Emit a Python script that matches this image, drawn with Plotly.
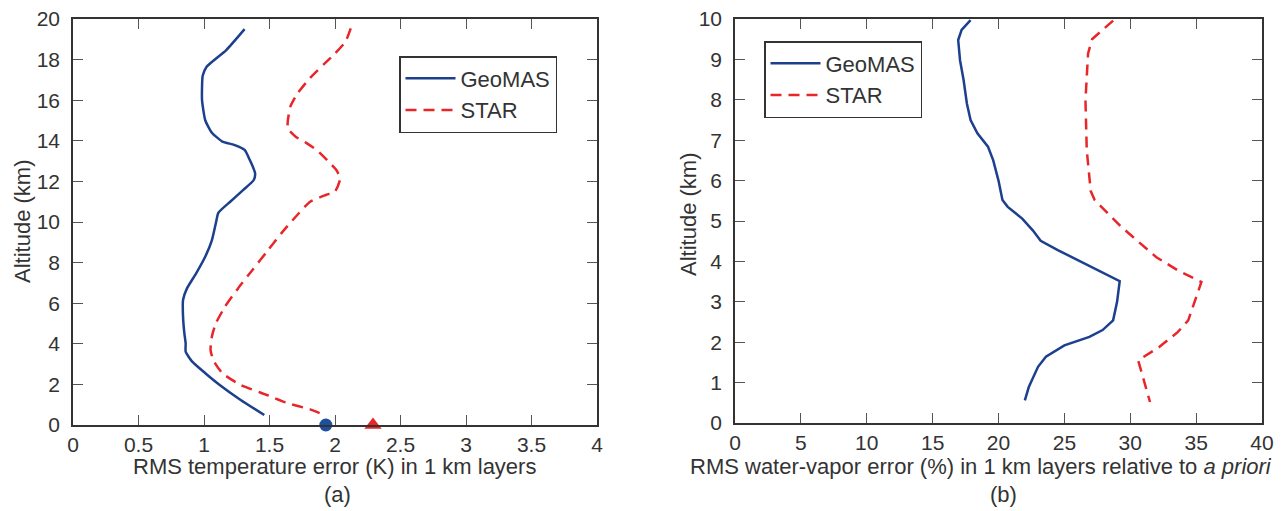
import plotly.graph_objects as go

# ---- Panel (a): RMS temperature error (K) ----
geo_t_x = [1.31, 1.17, 1.02, 0.99, 0.985, 1.01, 1.06, 1.14, 1.23, 1.31, 1.35, 1.39, 1.38, 1.30, 1.20, 1.11,
           1.09, 1.06, 1.01, 0.94, 0.87, 0.84, 0.84, 0.85, 0.86, 0.86, 0.91, 1.01, 1.12, 1.28, 1.46]
geo_t_y = [19.5, 18.47, 17.65, 17.2, 16.0, 15.0, 14.4, 13.96, 13.8, 13.55, 13.05, 12.4, 12.07, 11.58, 11.0, 10.46,
           9.93, 9.1, 8.3, 7.47, 6.73, 6.16, 5.34, 4.52, 4.02, 3.61, 3.12, 2.55, 1.97, 1.23, 0.49]
star_t_x = [2.12, 2.08, 2.0, 1.92, 1.81, 1.71, 1.66, 1.64, 1.64, 1.70, 1.78, 1.86, 1.94, 2.01, 2.04, 2.0, 1.93,
            1.81, 1.70, 1.59, 1.48, 1.37, 1.26, 1.16, 1.09, 1.06, 1.05, 1.07, 1.14, 1.28, 1.48, 1.64, 1.81, 1.89]
star_t_y = [19.54, 18.88, 18.3, 17.8, 17.1, 16.3, 15.7, 15.0, 14.6, 14.2, 13.9, 13.55, 13.05, 12.56, 12.15, 11.5,
            11.33, 11.0, 10.26, 9.44, 8.54, 7.64, 6.73, 5.83, 5.0, 4.35, 3.7, 3.2, 2.55, 1.97, 1.48, 1.07, 0.77, 0.57]
geo_t_marker = [1.93, 0.0]
star_t_marker = [2.29, 0.0]
t_ticks = [0, 0.5, 1, 1.5, 2, 2.5, 3, 3.5, 4]
t_ticklabels = ["0", "0.5", "1", "1.5", "2", "2.5", "3", "3.5", "4"]
alt_a_ticks = [0, 2, 4, 6, 8, 10, 12, 14, 16, 18, 20]

# ---- Panel (b): RMS water-vapor error (%) ----
geo_w_x = [17.88, 17.2, 16.94, 17.08, 17.35, 17.6, 17.88, 18.4, 19.2, 19.6, 20.0, 20.3, 20.7, 21.8, 22.6, 23.2,
           24.5, 26.3, 29.2, 29.0, 28.7, 27.9, 26.9, 25.0, 23.6, 23.0, 22.3, 22.0]
geo_w_y = [9.97, 9.73, 9.48, 8.98, 8.49, 7.91, 7.5, 7.17, 6.84, 6.5, 6.0, 5.52, 5.35, 5.06, 4.77, 4.51,
           4.28, 3.99, 3.51, 3.0, 2.54, 2.30, 2.13, 1.92, 1.64, 1.39, 0.89, 0.56]
star_w_x = [28.7, 27.1, 26.8, 26.6, 26.7, 27.0, 27.3, 29.3, 31.96, 33.6, 35.4, 35.0, 34.4, 33.6, 32.2, 30.6, 31.0, 31.5]
star_w_y = [9.96, 9.5, 9.15, 7.99, 6.75, 5.74, 5.52, 4.86, 4.11, 3.78, 3.49, 3.12, 2.54, 2.25, 1.88, 1.55, 1.06, 0.52]
w_ticks = [0, 5, 10, 15, 20, 25, 30, 35, 40]
alt_b_ticks = [0, 1, 2, 3, 4, 5, 6, 7, 8, 9, 10]

OFF = 8  # page body margin
W, H = 1284 - OFF, 511 - OFF
BLUE = "#1c3f8e"
RED = "#e8262a"
TXT = "#333333"
FONT = "Liberation Sans, Arial, sans-serif"


def px(x):
    return (x - OFF) / W


def py(y):
    return 1 - (y - OFF) / H


fig = go.Figure()

fig.add_trace(go.Scatter(x=geo_t_x, y=geo_t_y, mode="lines", name="GeoMAS",
                         line=dict(color=BLUE, width=2.5, shape="spline", smoothing=0.5),
                         xaxis="x", yaxis="y", legend="legend"))
fig.add_trace(go.Scatter(x=star_t_x, y=star_t_y, mode="lines", name="STAR",
                         line=dict(color=RED, width=2.5, dash="11px,7px", shape="spline", smoothing=0.5),
                         xaxis="x", yaxis="y", legend="legend"))
fig.add_trace(go.Scatter(x=[geo_t_marker[0]], y=[geo_t_marker[1]], mode="markers", showlegend=False,
                         marker=dict(color="#1f4f9f", size=13, symbol="circle"), cliponaxis=False,
                         xaxis="x", yaxis="y"))
fig.add_trace(go.Scatter(x=[star_t_marker[0]], y=[star_t_marker[1]], mode="markers", showlegend=False,
                         marker=dict(color=RED, size=15, symbol="triangle-up"), cliponaxis=False,
                         xaxis="x", yaxis="y"))

fig.add_trace(go.Scatter(x=geo_w_x, y=geo_w_y, mode="lines", name="GeoMAS",
                         line=dict(color=BLUE, width=2.5), xaxis="x2", yaxis="y2", legend="legend2"))
fig.add_trace(go.Scatter(x=star_w_x, y=star_w_y, mode="lines", name="STAR",
                         line=dict(color=RED, width=2.5, dash="11px,7px"), xaxis="x2", yaxis="y2", legend="legend2"))

axis_common = dict(showgrid=False, zeroline=False, showline=True, linecolor=TXT, linewidth=1.5,
                   mirror="ticks", ticks="inside", ticklen=10, tickwidth=1, tickcolor="#555555",
                   tickfont=dict(family=FONT, size=21, color=TXT), automargin=False, fixedrange=True,
                   ticklabeloverflow="allow")

legend_common = dict(xanchor="left", yanchor="top", bgcolor="white",
                     bordercolor=TXT, borderwidth=1.5, font=dict(family=FONT, size=22, color=TXT),
                     tracegroupgap=0, itemwidth=50)

fig.update_layout(
    width=W, height=H,
    margin=dict(l=0, r=0, t=0, b=0),
    paper_bgcolor="white", plot_bgcolor="white",
    showlegend=True,
    xaxis=dict(domain=[px(73), px(597)], range=[0, 4], tickvals=t_ticks, ticktext=t_ticklabels,
               anchor="y", ticklabelstandoff=0, **axis_common),
    yaxis=dict(domain=[py(425), py(19)], range=[0, 20], tickvals=alt_a_ticks,
               anchor="x", ticklabelstandoff=7, **axis_common),
    xaxis2=dict(domain=[px(735), px(1262)], range=[0, 40], tickvals=w_ticks,
                anchor="y2", ticklabelstandoff=0, **axis_common),
    yaxis2=dict(domain=[py(423), py(19)], range=[0, 10], tickvals=alt_b_ticks,
                anchor="x2", ticklabelstandoff=7, **axis_common),
    legend=dict(x=px(399), y=py(56), **legend_common),
    legend2=dict(x=px(764), y=py(41), **legend_common),
)

ann_font = dict(family=FONT, size=22, color=TXT)


def label(x, y, text, angle=0):
    fig.add_annotation(x=px(x), y=py(y), xref="paper", yref="paper", showarrow=False,
                       xanchor="center", yanchor="middle", text=text, textangle=angle, font=ann_font)


label(334, 466, "RMS temperature error (K) in 1 km layers")
label(337, 494, "(a)")
label(981, 466, "RMS water-vapor error (%) in 1 km layers relative to <i>a priori</i>")
label(1003, 494, "(b)")
label(22, 222, "Altitude (km)", -90)
label(688, 215, "Altitude (km)", -90)

fig.write_html("out.html")
